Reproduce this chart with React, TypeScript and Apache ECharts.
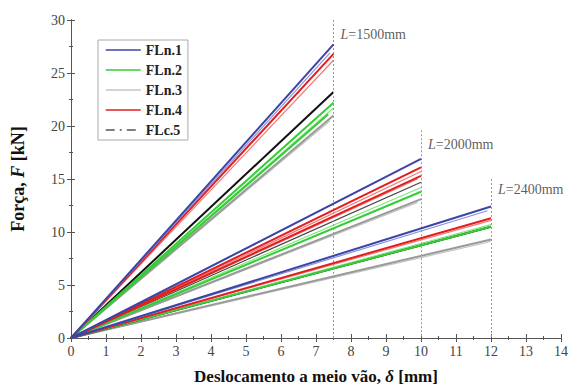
import React, { useEffect, useRef } from "react";
import * as echarts from "echarts";

// Specimen names (legend order)
const specimens = ["FLn.1", "FLn.2", "FLn.3", "FLn.4", "FLc.5"];

// End points [δ mm, F kN] of each test curve (curves start at the origin)
const FLn1Ends = [[7.5, 27.7], [7.4, 26.9], [10, 16.9], [8.4, 14.2], [12, 12.4], [11.9, 12.0]];
const FLn2Ends = [[7.5, 22.2], [7.5, 21.7], [7.35, 21.1], [10, 14.2], [10, 13.8], [12, 10.7], [12, 10.5]];
const FLn3Ends = [[7.5, 21.0], [7.4, 20.5], [10, 13.1], [9.9, 12.8], [12, 9.3], [12, 9.1]];
const FLn4Ends = [[7.5, 26.8], [7.5, 26.2], [10, 16.1], [10, 15.7], [10, 15.3], [9.9, 15.0], [12, 11.3], [12, 11.1]];
const FLc5Ends = [[7.5, 23.2], [10, 14.7], [12, 10.5]];

// Span annotations
const spanX = [7.5, 10, 12];
const spanLineTop = [30, 19.6, 15.0];
const spanLabelY = [28.6, 18.3, 14.0];
const spanLabels = ["1500", "2000", "2400"];

// Axis ticks
const xMin = 0, xMax = 14, xStep = 1;
const yMin = 0, yMax = 30, yStep = 5;

const SERIF = "Liberation Serif";

const palette: Record<string, [string, string]> = {
  "FLn.1": ["#3a45a6", "#8a92d6"],
  "FLn.2": ["#35cc35", "#7ee87e"],
  "FLn.3": ["#9a9a9a", "#c4c4c4"],
  "FLn.4": ["#e01e1e", "#f07a7a"],
  "FLc.5": ["#111111", "#444444"],
};

const endsBySpecimen: Record<string, number[][]> = {
  "FLn.1": FLn1Ends,
  "FLn.2": FLn2Ends,
  "FLn.3": FLn3Ends,
  "FLn.4": FLn4Ends,
  "FLc.5": FLc5Ends,
};

const drawOrder = ["FLn.3", "FLc.5", "FLn.2", "FLn.4", "FLn.1"];

export default function App() {
  const ref = useRef<HTMLDivElement>(null);
  useEffect(() => {
    if (!ref.current) return;
    const chart = echarts.init(ref.current, undefined, { renderer: "svg" });

    const series: any[] = [];
    drawOrder.forEach((name, si) => {
      const ends = endsBySpecimen[name];
      const idx = ends.map((_, i) => i).sort((a, b) => (b % 2) - (a % 2));
      idx.forEach((i) => {
        const main = i % 2 === 0;
        series.push({
          type: "line",
          name,
          data: [[0, 0], ends[i]],
          symbol: "none",
          silent: true,
          z: 2 + si,
          lineStyle: {
            color: main ? palette[name][0] : palette[name][1],
            width: main ? 2 : 1.2,
          },
        });
      });
    });

    series.push({
      type: "scatter",
      name: "spans",
      data: spanX.map((x, i) => [x, spanLabelY[i], spanLabels[i]]),
      symbolSize: 0,
      silent: true,
      z: 1,
      label: {
        show: true,
        position: "right",
        distance: 7,
        formatter: (p: any) => `{i|L}{n|=${p.value[2]}mm}`,
        rich: {
          i: { fontFamily: SERIF, fontStyle: "italic", fontSize: 14, color: "#333" },
          n: { fontFamily: SERIF, fontSize: 14, color: "#333" },
        },
      },
      markLine: {
        silent: true,
        symbol: "none",
        label: { show: false },
        lineStyle: { type: [2, 2], color: "#999", width: 1 },
        data: spanX.map((x, i) => [{ coord: [x, spanLineTop[i]] }, { coord: [x, 0] }]),
      },
    });

    const axisLine = { show: true, lineStyle: { color: "#555", width: 1 } };
    const baseX = {
      type: "value",
      min: xMin,
      max: xMax,
      interval: xStep,
      splitLine: { show: false },
      axisLine,
    };
    const baseY = {
      type: "value",
      min: yMin,
      max: yMax,
      interval: yStep,
      splitLine: { show: false },
      axisLine,
    };
    const tick = (inside: boolean) => ({ show: true, inside, length: 4, lineStyle: { color: "#555" } });
    const minor = { show: true, splitNumber: 2, length: 2, lineStyle: { color: "#555" } };

    chart.setOption({
      animation: false,
      backgroundColor: "#fff",
      grid: { left: 71, right: 6, top: 20, bottom: 47, containLabel: false },
      legend: {
        orient: "vertical",
        left: 98,
        top: 40,
        padding: [3, 6, 3, 7],
        itemGap: 6,
        itemWidth: 35,
        itemHeight: 12,
        borderColor: "#aaa",
        borderWidth: 1,
        selectedMode: false,
        textStyle: { fontFamily: SERIF, fontWeight: "bold", fontSize: 14, color: "#222" },
        data: specimens.map((n) => ({
          name: n,
          itemStyle: { opacity: 0 },
          lineStyle:
            n === "FLc.5"
              ? { color: "#555", width: 1.5, type: [9, 5, 2, 5] }
              : { color: palette[n][n === "FLn.3" ? 1 : 0], width: 1.3, type: "solid" },
        })),
      },
      xAxis: [
        {
          ...baseX,
          position: "bottom",
          name: "Deslocamento a meio vão, {d|δ} [mm]",
          nameLocation: "middle",
          nameGap: 30,
          nameTextStyle: {
            fontFamily: SERIF,
            fontWeight: "bold",
            fontSize: 17,
            color: "#111",
            rich: { d: { fontFamily: SERIF, fontStyle: "italic", fontWeight: "bold", fontSize: 17, color: "#111" } },
          },
          axisTick: tick(false),
          minorTick: minor,
          axisLabel: { fontFamily: SERIF, fontSize: 14, color: "#444", margin: 6 },
        },
        { ...baseX, position: "bottom", axisTick: tick(true), minorTick: minor, axisLabel: { show: false } },
        { ...baseX, position: "top", axisTick: tick(true), minorTick: minor, axisLabel: { show: false } },
      ],
      yAxis: [
        {
          ...baseY,
          position: "left",
          name: "Força, {f|F} [kN]",
          nameLocation: "middle",
          nameGap: 44,
          nameTextStyle: {
            fontFamily: SERIF,
            fontWeight: "bold",
            fontSize: 18,
            color: "#111",
            rich: { f: { fontFamily: SERIF, fontStyle: "italic", fontWeight: "bold", fontSize: 18, color: "#111" } },
          },
          axisTick: tick(false),
          minorTick: minor,
          axisLabel: { fontFamily: SERIF, fontSize: 14, color: "#444", margin: 6 },
        },
        { ...baseY, position: "left", axisTick: tick(true), minorTick: minor, axisLabel: { show: false } },
        { ...baseY, position: "right", axisTick: tick(true), minorTick: minor, axisLabel: { show: false } },
      ],
      series,
    });
    return () => chart.dispose();
  }, []);
  return <div ref={ref} style={{ width: 571, height: 390, position: "absolute", left: 0, top: 0 }} />;
}
